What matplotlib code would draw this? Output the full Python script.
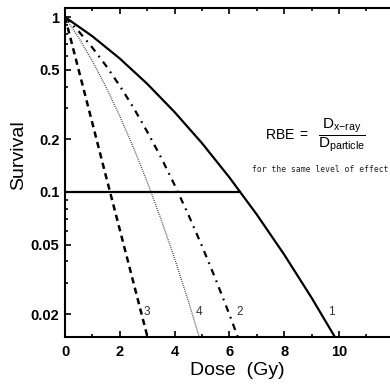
import matplotlib
matplotlib.use('Agg')
import matplotlib.pyplot as plt
from matplotlib.ticker import FixedLocator, NullFormatter

plt.rcParams['font.family'] = ['Liberation Sans', 'DejaVu Sans']
plt.rcParams['mathtext.fontset'] = 'custom'
plt.rcParams['mathtext.rm'] = 'Liberation Sans'
plt.rcParams['mathtext.it'] = 'Liberation Sans'

# curve 1 (solid, x-ray)
dose_1 = [0, 1, 2, 3, 4, 5, 6, 7, 8, 9, 9.85]
surv_1 = [1.0, 0.776, 0.579, 0.415, 0.286, 0.190, 0.121, 0.0742, 0.0438, 0.0248, 0.0148]
# curve 2 (dash-dot)
dose_2 = [0, 0.5, 1, 1.5, 2, 2.5, 3, 3.5, 4, 4.5, 5, 5.5, 6, 6.3]
surv_2 = [1.0, 0.828, 0.668, 0.526, 0.404, 0.303, 0.221, 0.158, 0.1095, 0.0742,
          0.049, 0.0316, 0.0199, 0.0149]
# curve 3 (dashed)
dose_3 = [0, 0.5, 1, 1.5, 2, 2.5, 3.01]
surv_3 = [1.0, 0.497, 0.247, 0.122, 0.0608, 0.0302, 0.0148]
# curve 4 (dotted)
dose_4 = [0, 0.5, 1, 1.5, 2, 2.5, 3, 3.5, 4, 4.5, 4.9]
surv_4 = [1.0, 0.762, 0.560, 0.397, 0.271, 0.179, 0.114, 0.0701, 0.0416, 0.0238, 0.0148]

curve_labels = ['1', '2', '3', '4']
label_dose = [9.72, 6.38, 3.0, 4.9]
label_surv = [0.0205, 0.0205, 0.0205, 0.0205]

level_surv = 0.1
level_dose = [0, 6.4]

y_major = [1, 0.5, 0.2, 0.1, 0.05, 0.02]
y_labels = ['1', '0.5', '0.2', '0.1', '0.05', '0.02']
y_minor = [0.9, 0.8, 0.7, 0.6, 0.4, 0.3, 0.09, 0.08, 0.07, 0.06, 0.04, 0.03]
x_major = [0, 2, 4, 6, 8, 10]
x_minor = [1, 3, 5, 7, 9, 11]

fig = plt.figure(figsize=(3.9, 3.86), dpi=100)
ax = fig.add_axes([0.1667, 0.127, 0.843, 0.852])

ax.plot(dose_1, surv_1, color='black', lw=1.6, ls='-')
ax.plot(dose_2, surv_2, color='black', lw=1.6, ls=(0, (3, 2.5, 0.8, 2.5)))
ax.plot(dose_3, surv_3, color='black', lw=1.8, ls=(0, (2.5, 1.8)))
ax.plot(dose_4, surv_4, color='#333333', lw=1.0, ls=(0, (0.6, 0.9)))
ax.plot(level_dose, [level_surv, level_surv], color='black', lw=1.6)

for lab, d, s in zip(curve_labels, label_dose, label_surv):
    ax.text(d, s, lab, fontsize=8.5, ha='center', va='center', color='#333333')

ax.set_yscale('log')
ax.set_xlim(0, 12)
ax.set_ylim(0.0148, 1.125)

ax.yaxis.set_major_locator(FixedLocator(y_major))
ax.set_yticklabels(y_labels)
ax.yaxis.set_minor_locator(FixedLocator(y_minor))
ax.yaxis.set_minor_formatter(NullFormatter())
ax.xaxis.set_major_locator(FixedLocator(x_major))
ax.xaxis.set_minor_locator(FixedLocator(x_minor))

ax.tick_params(which='both', direction='in', top=True, right=False,
               width=1.2, labelsize=10.5)
ax.tick_params(which='major', length=4.5)
ax.tick_params(which='minor', length=2.5)
for lab in ax.get_xticklabels() + ax.get_yticklabels():
    lab.set_fontweight('bold')
ax.tick_params(axis='x', pad=6)
ax.tick_params(axis='y', pad=4)

for sp in ax.spines.values():
    sp.set_linewidth(1.5)
ax.spines['right'].set_visible(False)

ax.set_xlabel('Dose  (Gy)', fontsize=14)
ax.set_ylabel('Survival', fontsize=14)
ax.xaxis.set_label_coords(0.523, -0.075)
ax.yaxis.set_label_coords(-0.115, 0.553)

ax.text(0.608, 0.614, 'RBE $=$', transform=ax.transAxes, fontsize=10,
        ha='left', va='center')
ax.text(0.768, 0.614, r'$\dfrac{\mathrm{D}_{\mathrm{x\mathrm{-}ray}}}{\mathrm{D}_{\mathrm{particle}}}$',
        transform=ax.transAxes, fontsize=11, ha='left', va='center')
ax.text(0.569, 0.51, 'for the same level of effect', transform=ax.transAxes,
        fontsize=5.8, family='DejaVu Sans Mono', ha='left', va='center',
        color='#222222')

fig.savefig('out.png', dpi=100)
